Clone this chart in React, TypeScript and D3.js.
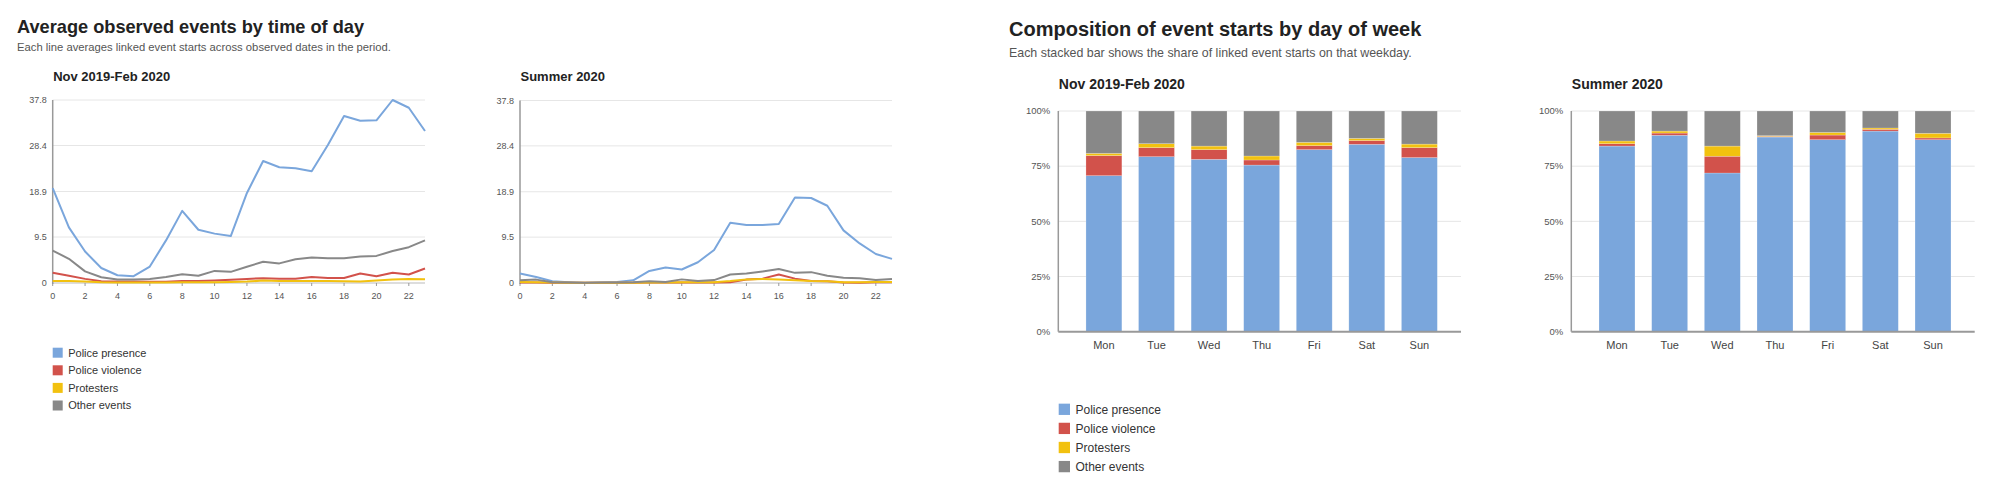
import React from 'react';
import * as d3 from 'd3';

const seriesNames = ['Police presence', 'Police violence', 'Protesters', 'Other events'];
const seriesColors = ['#7aa6dc', '#d2524b', '#f2c10f', '#888888'];

const hours = [0, 1, 2, 3, 4, 5, 6, 7, 8, 9, 10, 11, 12, 13, 14, 15, 16, 17, 18, 19, 20, 21, 22, 23];
const hourTicks = [0, 2, 4, 6, 8, 10, 12, 14, 16, 18, 20, 22];
const lineYTicks = [0, 9.5, 18.9, 28.4, 37.8];

// Nov 2019-Feb 2020, average events per hour
const presenceWinter = [19.6, 11.5, 6.5, 3.1, 1.6, 1.4, 3.4, 8.8, 14.9, 11.0, 10.2, 9.7, 18.6, 25.2, 23.9, 23.7, 23.1, 28.5, 34.5, 33.5, 33.6, 37.8, 36.2, 31.4];
const violenceWinter = [2.1, 1.5, 0.85, 0.35, 0.3, 0.3, 0.25, 0.25, 0.4, 0.4, 0.5, 0.65, 0.85, 1.0, 0.9, 0.9, 1.25, 1.05, 1.05, 1.95, 1.4, 2.1, 1.75, 3.0];
const protestersWinter = [0.4, 0.4, 0.3, 0.15, 0.1, 0.1, 0.1, 0.1, 0.15, 0.15, 0.15, 0.2, 0.3, 0.5, 0.4, 0.4, 0.4, 0.4, 0.35, 0.3, 0.5, 0.7, 0.85, 0.75];
const otherWinter = [6.7, 5.0, 2.4, 1.2, 0.7, 0.7, 0.85, 1.25, 1.8, 1.5, 2.5, 2.3, 3.35, 4.4, 4.05, 4.9, 5.25, 5.1, 5.1, 5.45, 5.6, 6.6, 7.4, 8.8];

// Summer 2020
const presenceSummer = [1.95, 1.25, 0.35, 0.15, 0.0, 0.1, 0.2, 0.55, 2.5, 3.2, 2.8, 4.3, 6.85, 12.5, 12.0, 12.0, 12.2, 17.7, 17.6, 16.0, 10.9, 8.2, 6.0, 5.0];
const violenceSummer = [0.1, 0.1, 0.05, 0.05, 0.05, 0.05, 0.05, 0.05, 0.1, 0.1, 0.1, 0.1, 0.1, 0.15, 0.7, 0.9, 1.75, 0.9, 0.4, 0.35, 0.1, 0.05, 0.15, 0.15];
const protestersSummer = [0.2, 0.15, 0.1, 0.05, 0.05, 0.05, 0.05, 0.05, 0.1, 0.1, 0.15, 0.15, 0.15, 0.4, 0.75, 0.85, 0.7, 0.55, 0.4, 0.35, 0.15, 0.15, 0.2, 0.2];
const otherSummer = [0.55, 0.7, 0.15, 0.1, 0.05, 0.1, 0.1, 0.15, 0.35, 0.2, 0.75, 0.4, 0.6, 1.75, 1.95, 2.4, 2.9, 2.1, 2.25, 1.5, 1.1, 1.0, 0.6, 0.85];

const weekdays = ['Mon', 'Tue', 'Wed', 'Thu', 'Fri', 'Sat', 'Sun'];
const shareTicks = [0, 25, 50, 75, 100];

// share of event starts (%) per weekday
const presenceShareWinter = [70.7, 79.3, 78.1, 75.5, 82.5, 84.9, 78.9];
const violenceShareWinter = [9.1, 4.1, 4.4, 2.3, 1.8, 1.7, 4.5];
const protestersShareWinter = [1.0, 1.8, 1.6, 1.8, 1.5, 1.0, 1.6];
const otherShareWinter = [19.2, 14.8, 15.9, 20.4, 14.2, 12.4, 15.0];

const presenceShareSummer = [84.1, 89.0, 71.9, 88.2, 87.0, 90.9, 87.0];
const violenceShareSummer = [1.1, 1.0, 7.6, 0.3, 2.1, 0.8, 0.8];
const protestersShareSummer = [1.2, 0.9, 4.6, 0.3, 1.2, 0.6, 2.1];
const otherShareSummer = [13.6, 9.1, 15.9, 11.2, 9.7, 7.7, 10.1];

const FONT = '"Liberation Sans", Arial, sans-serif';

function LinePanel({ title, x0, x1, y0, y1, series }: { title: string; x0: number; x1: number; y0: number; y1: number; series: number[][] }) {
  const x = d3.scaleLinear().domain([0, 23]).range([x0, x1]);
  const y = d3.scaleLinear().domain([0, 37.8]).range([y1, y0]);
  const line = d3.line<number>().x((_, i) => x(hours[i])).y(d => y(d));
  return (
    <g>
      <text x={x0 + 0.5} y={y0 - 19.5} fontSize={13} fontWeight="bold" fill="#222">{title}</text>
      {lineYTicks.map(t => (
        <g key={t}>
          {t > 0 && <line x1={x0} x2={x1} y1={y(t)} y2={y(t)} stroke="#e6e6e6" strokeWidth={1} />}
          <text x={x0 - 6} y={y(t) + 3} fontSize={9} fill="#555" textAnchor="end">{t === 0 ? '0' : t.toFixed(1)}</text>
        </g>
      ))}
      <line x1={x0} x2={x1} y1={y1} y2={y1} stroke="#bbb" strokeWidth={1} />
      {hourTicks.map(t => (
        <g key={t}>
          <line x1={x(t)} x2={x(t)} y1={y1} y2={y1 + 3} stroke="#999" strokeWidth={1} />
          <text x={x(t)} y={y1 + 16} fontSize={9} fill="#555" textAnchor="middle">{t}</text>
        </g>
      ))}
      <line x1={x0} x2={x0} y1={y0} y2={y1 + 1} stroke="#999" strokeWidth={1.5} />
      {series.map((s, i) => (
        <path key={i} d={line(s) || ''} fill="none" stroke={seriesColors[i]} strokeWidth={2} strokeLinejoin="round" />
      ))}
    </g>
  );
}

function BarPanel({ title, x0, x1, y0, y1, series }: { title: string; x0: number; x1: number; y0: number; y1: number; series: number[][] }) {
  const x = d3.scaleBand<string>().domain(weekdays).range([x0 + 4, x1]).paddingInner(0.317).paddingOuter(0.45);
  const y = d3.scaleLinear().domain([0, 100]).range([y1, y0]);
  const rows = weekdays.map((d, j) => {
    const r: any = { day: d };
    seriesNames.forEach((n, i) => (r[n] = series[i][j]));
    return r;
  });
  const stacked = d3.stack<any>().keys(seriesNames)(rows);
  return (
    <g>
      <text x={x0 + 0.5} y={y0 - 22} fontSize={14} fontWeight="bold" fill="#222">{title}</text>
      {shareTicks.map(t => (
        <g key={t}>
          {t > 0 && <line x1={x0} x2={x1} y1={y(t)} y2={y(t)} stroke="#e6e6e6" strokeWidth={1} />}
          <text x={x0 - 8} y={y(t) + 3.2} fontSize={9.5} fill="#555" textAnchor="end">{t}%</text>
        </g>
      ))}
      {stacked.map((layer, i) => (
        <g key={i} fill={seriesColors[i]}>
          {layer.map((seg, j) => (
            <rect key={j} x={x(weekdays[j])} y={y(Math.min(seg[1], 100))} width={x.bandwidth()} height={Math.max(0, y(seg[0]) - y(Math.min(seg[1], 100)))} stroke="#fff" strokeOpacity={0.35} strokeWidth={0.6} />
          ))}
        </g>
      ))}
      <line x1={x0} x2={x0} y1={y0} y2={y1} stroke="#999" strokeWidth={1.5} />
      <line x1={x0} x2={x1} y1={y1} y2={y1} stroke="#999" strokeWidth={2} />
      {weekdays.map(d => (
        <text key={d} x={(x(d) || 0) + x.bandwidth() / 2} y={y1 + 17} fontSize={11} fill="#444" textAnchor="middle">{d}</text>
      ))}
    </g>
  );
}

function Legend({ x, y, size, gap, fontSize }: { x: number; y: number; size: number; gap: number; fontSize: number }) {
  return (
    <g>
      {seriesNames.map((n, i) => (
        <g key={n}>
          <rect x={x} y={y + i * gap - size / 2} width={size} height={size} fill={seriesColors[i]} />
          <text x={x + size + 5.5} y={y + i * gap + fontSize * 0.36} fontSize={fontSize} fill="#333">{n}</text>
        </g>
      ))}
    </g>
  );
}

export default function App() {
  return (
    <svg width={1998} height={492} style={{ position: 'absolute', left: 0, top: 0, background: '#fff' }} fontFamily={FONT}>
      <rect width={1998} height={492} fill="#fff" />
      <text x={17} y={32.5} fontSize={18.2} fontWeight="bold" fill="#222">Average observed events by time of day</text>
      <text x={17} y={50.5} fontSize={11.25} fill="#555">Each line averages linked event starts across observed dates in the period.</text>
      <LinePanel title="Nov 2019-Feb 2020" x0={52.7} x1={425} y0={100} y1={283}
        series={[presenceWinter, violenceWinter, protestersWinter, otherWinter]} />
      <LinePanel title="Summer 2020" x0={520} x1={892} y0={100.5} y1={283}
        series={[presenceSummer, violenceSummer, protestersSummer, otherSummer]} />
      <Legend x={52.7} y={352.7} size={10} gap={17.6} fontSize={11} />

      <text x={1009} y={35.5} fontSize={20} fontWeight="bold" fill="#222">Composition of event starts by day of week</text>
      <text x={1009} y={56.5} fontSize={12.4} fill="#555">Each stacked bar shows the share of linked event starts on that weekday.</text>
      <BarPanel title="Nov 2019-Feb 2020" x0={1058.3} x1={1461} y0={111} y1={331.7}
        series={[presenceShareWinter, violenceShareWinter, protestersShareWinter, otherShareWinter]} />
      <BarPanel title="Summer 2020" x0={1571.3} x1={1974.7} y0={111} y1={331.7}
        series={[presenceShareSummer, violenceShareSummer, protestersShareSummer, otherShareSummer]} />
      <Legend x={1058.7} y={409.3} size={11.3} gap={19.1} fontSize={12} />
    </svg>
  );
}
